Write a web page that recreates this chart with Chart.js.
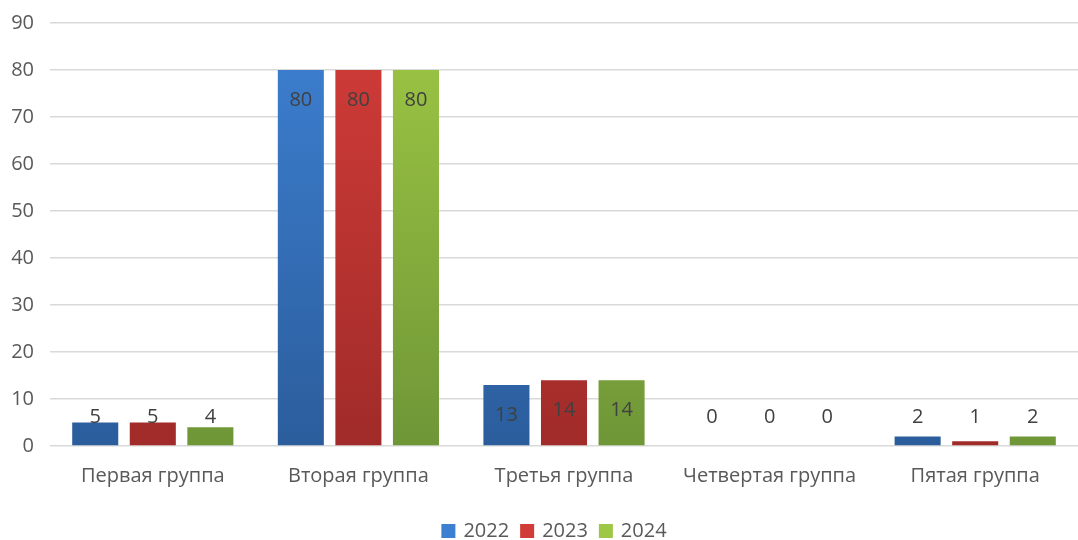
<!DOCTYPE html>
<html>
<head>
<meta charset="utf-8">
<script src="https://cdn.jsdelivr.net/npm/chart.js@4"></script>
<style>
  html, body { margin: 0; padding: 0; background: #fff; }
  #wrap { width: 1078px; height: 540px; position: relative; }
</style>
</head>
<body>
<div id="wrap"><canvas id="chart"></canvas></div>
<script>
// ── Data ─────────────────────────────────────────────────────────────────────
const categories = ['Первая группа', 'Вторая группа', 'Третья группа', 'Четвертая группа', 'Пятая группа'];
const years      = ['2022', '2023', '2024'];
const values2022 = [5, 80, 13, 0, 2];
const values2023 = [5, 80, 14, 0, 1];
const values2024 = [4, 80, 14, 0, 2];

const FONT = '"Open Sans", "Noto Sans", sans-serif';
const TEXT = '#595959';
const SIZE = 20;

// top / bottom colours of the gradient fill for each series
const SHADES = [
  ['#3d80d2', '#2b5d9c'],
  ['#d23c38', '#a02b29'],
  ['#9dc744', '#6f9637'],
];

function barFill(i) {
  return ctx => {
    const area = ctx.chart.chartArea;
    if (!area) return SHADES[i][0];
    const g = ctx.chart.ctx.createLinearGradient(0, area.top, 0, area.bottom);
    g.addColorStop(0, SHADES[i][0]);
    g.addColorStop(1, SHADES[i][1]);
    return g;
  };
}

// value labels: inside the top of the bar, lifted above short bars
const valueLabels = {
  id: 'valueLabels',
  afterDatasetsDraw(chart) {
    const { ctx } = chart;
    const zero = chart.scales.y.getPixelForValue(0);
    ctx.save();
    ctx.font = SIZE + 'px ' + FONT;
    ctx.fillStyle = '#404040';
    ctx.textAlign = 'center';
    ctx.textBaseline = 'middle';
    chart.data.datasets.forEach((ds, di) => {
      chart.getDatasetMeta(di).data.forEach((bar, i) => {
        const y = Math.min(bar.y + 30, zero - 29);
        ctx.fillText(String(ds.data[i]), bar.x, y);
      });
    });
    ctx.restore();
  },
};

// legend drawn by hand so it can sit right at the bottom edge
const bottomLegend = {
  id: 'bottomLegend',
  afterDraw(chart) {
    const { ctx } = chart;
    ctx.save();
    ctx.font = SIZE + 'px ' + FONT;
    ctx.textBaseline = 'middle';
    const box = 14, gapText = 8, gapItem = 11;
    const widths = years.map(t => ctx.measureText(t).width);
    const total = widths.reduce((s, w) => s + box + gapText + w, 0) + gapItem * (years.length - 1);
    let x = (chart.width - total) / 2 + 15;
    const y = 531;
    years.forEach((t, i) => {
      ctx.fillStyle = SHADES[i][0];
      ctx.fillRect(x, y - box / 2, box, box);
      x += box + gapText;
      ctx.fillStyle = TEXT;
      ctx.fillText(t, x, y);
      x += widths[i] + gapItem;
    });
    ctx.restore();
  },
};

new Chart(document.getElementById('chart'), {
  type: 'bar',
  data: {
    labels: categories,
    datasets: [values2022, values2023, values2024].map((vals, i) => ({
      label: years[i],
      data: vals,
      backgroundColor: barFill(i),
      borderWidth: 0,
      categoryPercentage: 0.84,
      barPercentage: 0.8,
    })),
  },
  options: {
    responsive: true,
    maintainAspectRatio: false,
    animation: false,
    layout: { padding: { top: 23, right: 0, left: 0, bottom: 0 } },
    plugins: {
      tooltip: { enabled: false },
      legend: { display: false },
    },
    scales: {
      x: {
        grid: { display: false },
        border: { display: false },
        ticks: { font: { family: FONT, size: SIZE }, color: TEXT, padding: 10 },
        afterFit(scale) { scale.height = 94; },
      },
      y: {
        min: 0,
        max: 90,
        ticks: { stepSize: 10, font: { family: FONT, size: SIZE }, color: TEXT, padding: 16 },
        grid: { color: '#d9d9d9', lineWidth: 1.5, drawTicks: false },
        border: { display: false },
        afterFit(scale) {
          scale.width = 50;
          scale.paddingTop = 0;
          scale.paddingBottom = 0;
        },
      },
    },
  },
  plugins: [valueLabels, bottomLegend],
});
</script>
</body>
</html>
